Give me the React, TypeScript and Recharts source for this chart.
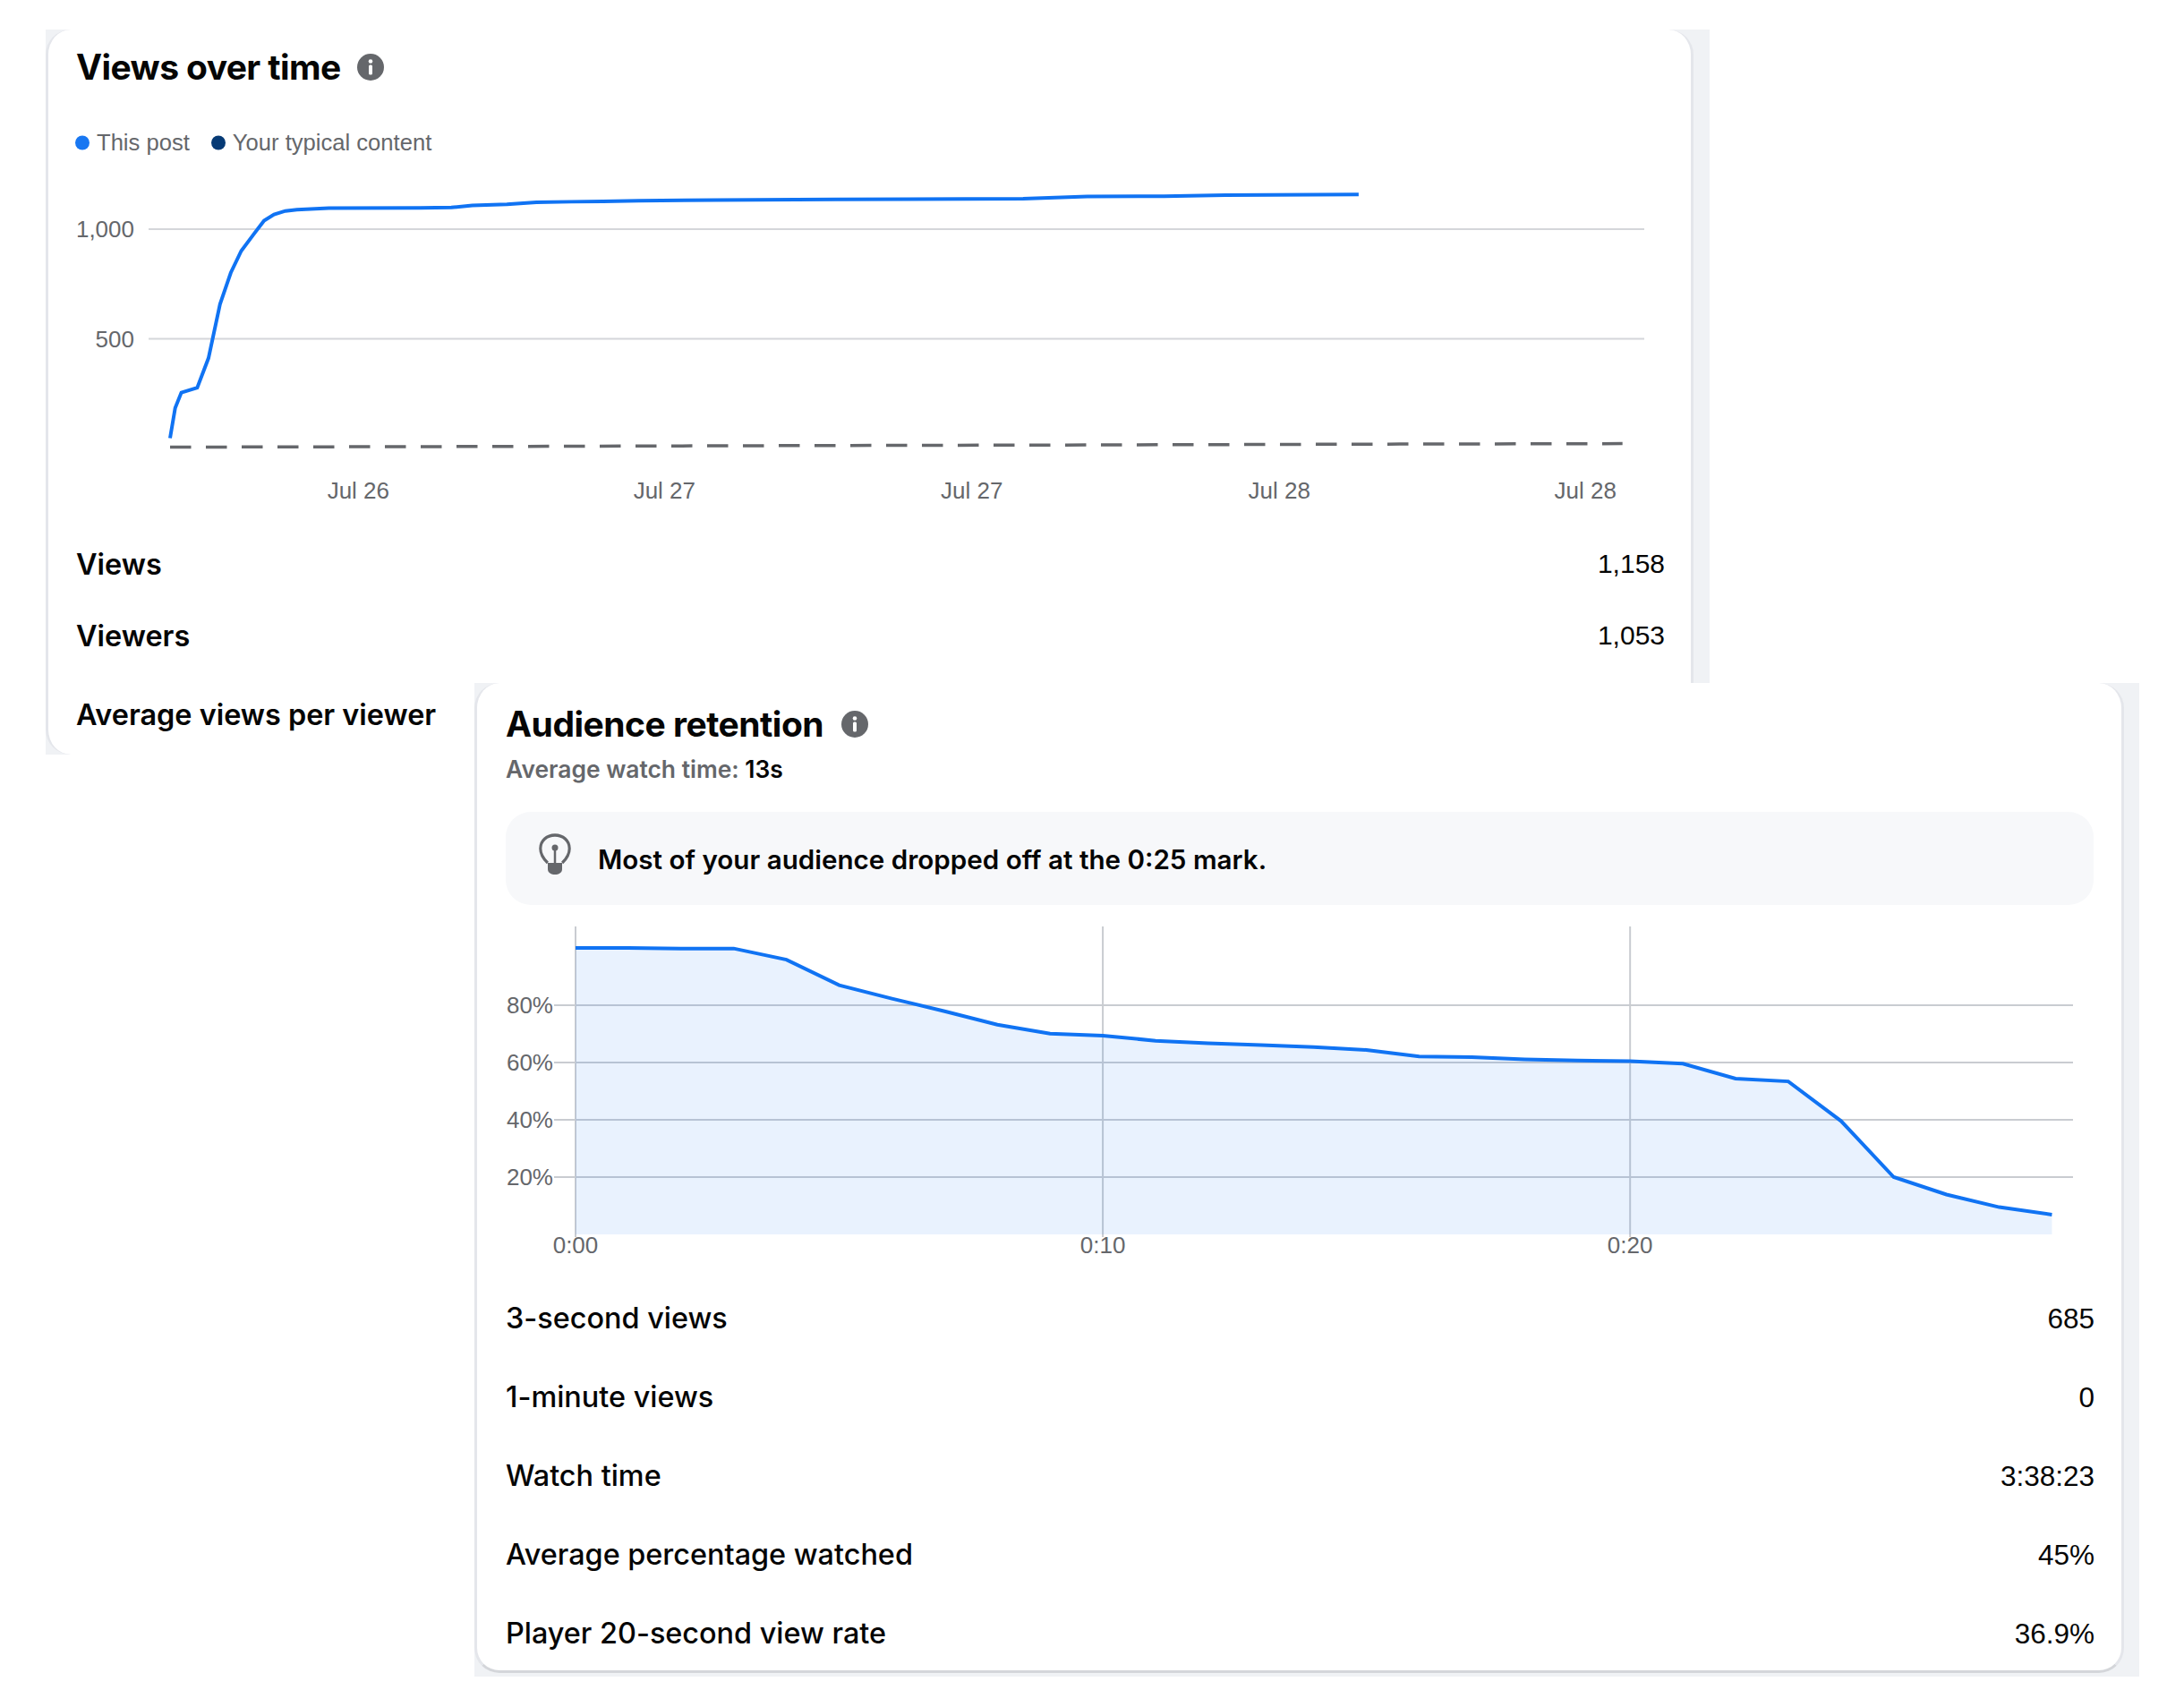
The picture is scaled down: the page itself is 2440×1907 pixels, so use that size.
import { ComposedChart, Line, Area, XAxis, YAxis, CartesianGrid } from 'recharts'

// Views over time: hours since publishing
const postHours = [0, 0.2, 0.44, 1.06, 1.5, 1.95, 2.37, 2.78, 3.26, 3.67, 4.06, 4.5, 4.95, 6.2, 9.77, 10.98, 11.8, 13.15, 14.3, 15.66, 16.9, 18.3, 21.3, 26, 33.3, 35.8, 38.8, 41.2, 46.4]
const postViews = [47, 185, 255, 277, 412, 658, 801, 901, 976, 1039, 1067, 1083, 1089, 1096, 1097, 1099, 1108, 1113, 1122, 1125, 1127, 1130, 1133, 1136, 1139, 1149, 1150, 1155, 1158]
const typicalHours = [0, 12, 24, 36, 48, 56.7]
const typicalViews = [6, 9, 13, 16, 20, 22]
const viewsTicks = [7.35, 19.3, 31.3, 43.3, 55.25]
const viewsTickLabels = ['Jul 26', 'Jul 27', 'Jul 27', 'Jul 28', 'Jul 28']
const viewsYTicks = [500, 1000]

// Audience retention: one value per second
const retention = [100, 100, 99.8, 99.8, 95.9, 87, 82.3, 77.9, 73.2, 70.1, 69.4, 67.6, 66.7, 66.1, 65.4, 64.4, 62.1, 61.9, 61.1, 60.7, 60.5, 59.6, 54.4, 53.4, 39.6, 20, 13.9, 9.5, 6.9]
const retentionTicks = [0, 10, 20]
const retentionTickLabels = ['0:00', '0:10', '0:20']
const retentionYTicks = [20, 40, 60, 80]

const viewsRows = [['Views', '1,158'], ['Viewers', '1,053']]
const retentionRows = [
  ['3-second views', '685'],
  ['1-minute views', '0'],
  ['Watch time', '3:38:23'],
  ['Average percentage watched', '45%'],
  ['Player 20-second view rate', '36.9%'],
]
const legendItems = [
  { label: 'This post', color: '#1877f2' },
  { label: 'Your typical content', color: '#063a75' },
]

const viewsData = [
  ...postHours.map((h, i) => ({ hour: h, post: postViews[i] })),
  ...typicalHours.map((h, i) => ({ hour: h, typical: typicalViews[i] })),
].sort((a, b) => a.hour - b.hour)
const retentionData = retention.map((v, i) => ({ sec: i, value: v }))

const UI = 'Inter, sans-serif'
const HELV = '"Liberation Sans", sans-serif'
const GREY = '#65676b'
const BLUE = '#1073f3'

function Abs({ x, y, style, children }: any) {
  return (
    <div style={{ position: 'absolute', left: x, top: y, transform: 'translateY(-50%)', whiteSpace: 'nowrap', ...style }}>
      {children}
    </div>
  )
}

function Info({ x, y }: { x: number; y: number }) {
  return (
    <svg style={{ position: 'absolute', left: x - 15, top: y - 15 }} width={30} height={30}>
      <circle cx={15} cy={15} r={15} fill={GREY} />
      <circle cx={15} cy={8.5} r={2.3} fill="#fff" />
      <rect x={13} y={12.5} width={4} height={11} rx={1.5} fill="#fff" />
    </svg>
  )
}

function Bulb({ x, y }: { x: number; y: number }) {
  return (
    <svg style={{ position: 'absolute', left: x - 20, top: y - 24 }} width={40} height={48}>
      <path d="M11 33 C4 27 2 22 2 17 C2 8 10 2 20 2 C30 2 38 8 38 17 C38 22 36 27 29 33" fill="none" stroke={GREY} strokeWidth={3.5} transform="translate(2 0) scale(.9 1)" />
      <path d="M12 33 L28 33 L28 40 C28 44 24 46 20 46 C16 46 12 44 12 40 Z" fill={GREY} />
      <line x1={20} y1={17} x2={20} y2={33} stroke={GREY} strokeWidth={2.5} />
      <circle cx={20} cy={16} r={3.5} fill={GREY} />
    </svg>
  )
}

function Row({ label, value, y, left, right, bold, valueSize, valueShift }: any) {
  return (
    <>
      <Abs x={left} y={y} style={{ fontFamily: UI, fontSize: 32.4, fontWeight: bold ? 600 : 500, color: '#050505' }}>{label}</Abs>
      <Abs x={undefined} y={y + valueShift} style={{ right: 2440 - right, fontFamily: HELV, fontSize: valueSize, color: '#050505' }}>{value}</Abs>
    </>
  )
}

export default function App() {
  return (
    <div style={{ position: 'absolute', left: 0, top: 0, width: 2440, height: 1907, background: '#fff', overflow: 'hidden' }}>
      {/* first screenshot */}
      <div style={{ position: 'absolute', left: 51, top: 33, width: 1859, height: 810, background: '#f0f2f5' }} />
      <div style={{ position: 'absolute', left: 51, top: 33, width: 1841, height: 810, background: '#fff', boxSizing: 'border-box', borderLeft: '3px solid #e4e6eb', borderRight: '3px solid #e4e6eb', borderRadius: 28 }} />

      <Abs x={85} y={74} style={{ fontFamily: UI, fontSize: 39, fontWeight: 700, color: '#050505', letterSpacing: -0.6 }}>Views over time</Abs>
      <Info x={414} y={75} />

      <Abs x={84} y={159} style={{ display: 'flex', fontFamily: HELV, fontSize: 25.6, color: GREY }}>
        {legendItems.map((it, i) => (
          <div key={it.label} style={{ display: 'flex', alignItems: 'center', marginRight: i === 0 ? 24 : 0 }}>
            <span style={{ width: 16, height: 16, borderRadius: 8, background: it.color, marginRight: 8 }} />
            {it.label}
          </div>
        ))}
      </Abs>

      <div style={{ position: 'absolute', left: 51, top: 180 }}>
        <ComposedChart width={1841} height={400} data={viewsData} margin={{ top: 27, right: 55, bottom: 19, left: 0 }}>
          <CartesianGrid horizontal vertical={false} horizontalValues={viewsYTicks} stroke="#d4d6da" strokeWidth={2} />
          <XAxis
            dataKey="hour"
            type="number"
            domain={[0, 57.55]}
            ticks={viewsTicks}
            tickFormatter={(_v: number, i: number) => viewsTickLabels[i]}
            axisLine={false}
            tickLine={false}
            height={60}
            tickMargin={32}
            tick={{ fill: GREY, fontSize: 26, fontFamily: HELV }}
            interval={0}
          />
          <YAxis
            width={139}
            domain={[0, 1200]}
            ticks={viewsYTicks}
            tickFormatter={(v: number) => v.toLocaleString('en-US')}
            axisLine={false}
            tickLine={{ stroke: '#d4d6da', strokeWidth: 2 }}
            tickSize={24}
            tickMargin={16}
            tick={{ fill: GREY, fontSize: 26, fontFamily: HELV }}
          />
          <Line dataKey="typical" stroke={GREY} strokeWidth={3.5} strokeDasharray="23.5 16.5" dot={false} connectNulls isAnimationActive={false} />
          <Line dataKey="post" stroke={BLUE} strokeWidth={4} dot={false} connectNulls isAnimationActive={false} />
        </ComposedChart>
      </div>

      {viewsRows.map(([l, v], i) => (
        <Row key={l} label={l} value={v} y={630 + i * 79.5} left={85} right={1860} bold valueSize={30} valueShift={0} />
      ))}
      <Abs x={85} y={798} style={{ fontFamily: UI, fontSize: 32.4, fontWeight: 600, color: '#050505' }}>Average views per viewer</Abs>

      {/* second screenshot, laid over the first */}
      <div style={{ position: 'absolute', left: 530, top: 763, width: 1860, height: 1110, background: '#f0f2f5' }} />
      <div style={{ position: 'absolute', left: 530, top: 763, width: 1843, height: 1106, background: '#fff', boxSizing: 'border-box', borderLeft: '3px solid #e4e6eb', borderRight: '3px solid #e4e6eb', borderBottom: '3px solid #d4d6da', borderRadius: 28 }} />

      <Abs x={565} y={808} style={{ fontFamily: UI, fontSize: 39, fontWeight: 700, color: '#050505', letterSpacing: -0.5 }}>Audience retention</Abs>
      <Info x={955} y={809} />
      <Abs x={565} y={859} style={{ fontFamily: UI, fontSize: 26.4, fontWeight: 600, color: GREY }}>
        Average watch time: <span style={{ color: '#050505' }}>13s</span>
      </Abs>

      <div style={{ position: 'absolute', left: 565, top: 907, width: 1774, height: 104, background: '#f7f8fa', borderRadius: 28 }} />
      <Bulb x={620} y={955} />
      <Abs x={668} y={960} style={{ fontFamily: UI, fontSize: 29.6, fontWeight: 600, color: '#050505' }}>Most of your audience dropped off at the 0:25 mark.</Abs>

      <div style={{ position: 'absolute', left: 531, top: 1020 }}>
        <ComposedChart width={1841} height={400} data={retentionData} margin={{ top: 15, right: 56, bottom: 1, left: 0 }}>
          <CartesianGrid horizontal vertical horizontalValues={retentionYTicks} verticalValues={retentionTicks} stroke="#c9ccd1" strokeWidth={2} />
          <XAxis
            dataKey="sec"
            type="number"
            domain={[0, 28.4]}
            ticks={retentionTicks}
            tickFormatter={(_v: number, i: number) => retentionTickLabels[i]}
            axisLine={false}
            tickLine={{ stroke: '#c9ccd1', strokeWidth: 2 }}
            tickSize={3}
            tickMargin={0}
            height={40}
            tick={{ fill: GREY, fontSize: 26, fontFamily: HELV }}
            interval={0}
          />
          <YAxis
            width={112}
            domain={[0, 107.5]}
            ticks={retentionYTicks}
            tickFormatter={(v: number) => `${v}%`}
            axisLine={false}
            tickLine={{ stroke: '#c9ccd1', strokeWidth: 2 }}
            tickSize={24}
            tickMargin={1}
            tick={{ fill: GREY, fontSize: 26, fontFamily: HELV }}
          />
          <Area dataKey="value" type="linear" stroke={BLUE} strokeWidth={4} fill={BLUE} fillOpacity={0.09} isAnimationActive={false} />
        </ComposedChart>
      </div>

      {retentionRows.map(([l, v], i) => (
        <Row key={l} label={l} value={v} y={1472 + i * 88} left={565} right={2340} valueSize={31.5} valueShift={1} />
      ))}
    </div>
  )
}
